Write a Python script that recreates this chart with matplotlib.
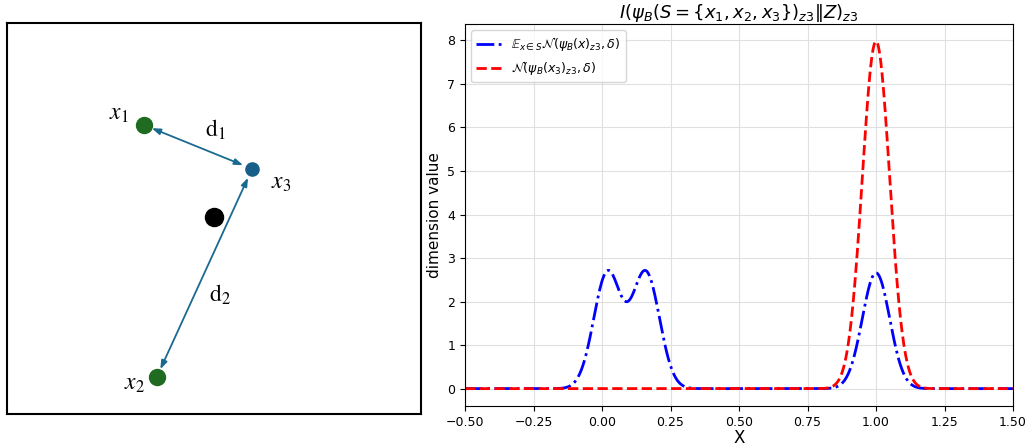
import numpy as np
import matplotlib.pyplot as plt

# left diagram: point positions in box coordinates (0..1)
point_names = ["x1", "x2", "x3", "center"]
point_x = [0.331, 0.362, 0.592, 0.500]
point_y = [0.739, 0.095, 0.627, 0.504]

# right plot: embedding positions and kernel width
psi_b = [0.02, 0.16, 1.00]   # psi_B(x)_z3 for x in S
psi_x3 = 1.00                # psi_B(x3)_z3
delta = 0.05
x_min, x_max = -0.5, 1.5


def normal_pdf(x, mu, sigma):
    return np.exp(-0.5 * ((x - mu) / sigma) ** 2) / (sigma * np.sqrt(2 * np.pi))


fig = plt.figure(figsize=(10.26, 4.46), dpi=100)

# ---- left panel: distance sketch ----
ax0 = fig.add_axes([7 / 1026, 32 / 446, 414 / 1026, 391 / 446])
ax0.set_xlim(0, 1)
ax0.set_ylim(0, 1)
ax0.set_xticks([])
ax0.set_yticks([])
for s in ax0.spines.values():
    s.set_linewidth(1.5)
    s.set_color("black")

green = "#1f6b21"
teal = "#175f88"
arrow_col = "#1a6a8f"

pts = dict(zip(point_names, zip(point_x, point_y)))

for name in ["x1", "x2"]:
    ax0.annotate("", xy=pts["x3"], xytext=pts[name],
                 arrowprops=dict(arrowstyle="<|-|>,head_length=0.5,head_width=0.18",
                                 color=arrow_col, lw=1.3, shrinkA=6, shrinkB=7))

ax0.plot(*pts["x1"], "o", color=green, ms=11.5, zorder=3)
ax0.plot(*pts["x2"], "o", color=green, ms=11.5, zorder=3)
ax0.plot(*pts["x3"], "o", color=teal, ms=9.5, zorder=3)
ax0.plot(*pts["center"], "o", color="black", ms=13, zorder=3)

lbl = dict(fontsize=17, ha="center", va="center", math_fontfamily="stix")
ax0.text(pts["x1"][0] - 0.062, pts["x1"][1] + 0.032, "$x_1$", **lbl)
ax0.text(pts["x2"][0] - 0.055, pts["x2"][1] - 0.016, "$x_2$", **lbl)
ax0.text(pts["x3"][0] + 0.070, pts["x3"][1] - 0.034, "$x_3$", **lbl)
ax0.text(0.503, 0.726, r"$\mathrm{d}_1$", **lbl)
ax0.text(0.515, 0.304, r"$\mathrm{d}_2$", **lbl)

# ---- right panel: kernel densities ----
ax1 = fig.add_axes([465 / 1026, 40 / 446, 548 / 1026, 382 / 446])
xs = np.linspace(x_min, x_max, 1000)
mix = np.mean([normal_pdf(xs, m, delta) for m in psi_b], axis=0)
single = normal_pdf(xs, psi_x3, delta)

ax1.plot(xs, mix, color="blue", ls="-.", lw=2,
         label=r"$\mathbb{E}_{x\in S}\mathcal{N}(\psi_B(x)_{z3},\delta)$")
ax1.plot(xs, single, color="red", ls="--", lw=2,
         label=r"$\mathcal{N}(\psi_B(x_3)_{z3},\delta)$")

ax1.set_xlim(x_min, x_max)
ax1.set_xticks(np.arange(-0.5, 1.51, 0.25))
ax1.set_yticks(range(0, 9))
ax1.tick_params(labelsize=9)
ax1.grid(True, color="#e0e0e0", lw=0.8)
ax1.set_xlabel("X", fontsize=12, labelpad=0)
ax1.set_ylabel("dimension value", fontsize=11)
ax1.set_title(r"$I(\psi_B(S=\{x_1,x_2,x_3\})_{z3}\|Z)_{z3}$", fontsize=13, pad=4)
ax1.legend(loc="upper left", fontsize=9)

fig.savefig("out.png", dpi=100)
